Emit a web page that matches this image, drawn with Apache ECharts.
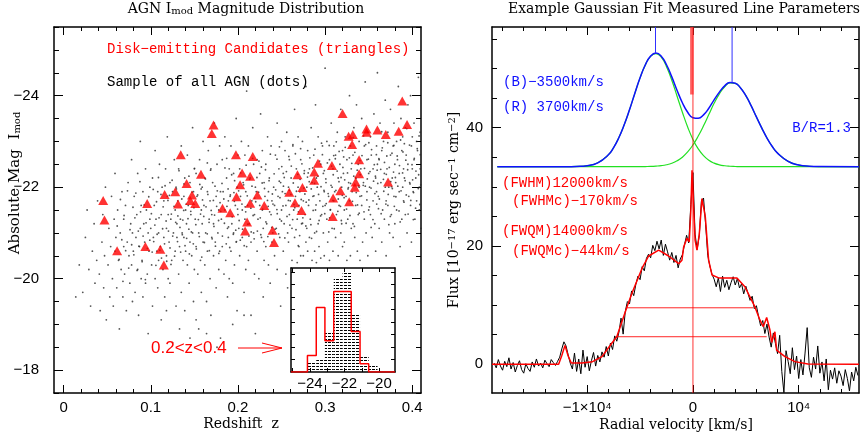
<!DOCTYPE html>
<html>
<head>
<meta charset="utf-8">
<script src="https://cdn.jsdelivr.net/npm/echarts@6/dist/echarts.min.js"></script>
<style>
html, body { margin: 0; padding: 0; background: #fff; }
#chart { width: 860px; height: 437px; }
</style>
</head>
<body>
<div id="chart"></div>
<script>
// ---------- left panel: redshift vs absolute magnitude ----------
const zTicks = [0, 0.1, 0.2, 0.3, 0.4];
const zMinorTicks = [0, 0.02, 0.04, 0.06, 0.08, 0.1, 0.12, 0.14, 0.16, 0.18, 0.2, 0.22, 0.24, 0.26, 0.28, 0.3, 0.32, 0.34, 0.36, 0.38, 0.4];
const magTicks = [-24, -22, -20, -18];
const magMinorTicks = [-25.5, -25, -24.5, -24, -23.5, -23, -22.5, -22, -21.5, -21, -20.5, -20, -19.5, -19, -18.5, -18, -17.5];

// all AGN (dots), flat list of z, mag pairs
const agnZM = [
  .014,-19.6, .018,-20.3, .022,-19.7, .025,-20.9, .027,-21.5, .029,-20.2,
  .031,-19.4, .033,-20.6, .035,-21.2, .036,-19.9, .038,-20.4, .039,-21.7,
  .041,-20.1, .042,-19.3, .044,-20.8, .045,-21.4, .046,-19.8, .047,-20.5, .048,-22.0, .049,-19.1,
  .051,-20.3, .052,-21.1, .053,-19.6, .054,-20.7, .055,-21.8, .056,-20.0, .057,-19.4, .058,-21.3, .059,-20.6, .059,-22.3,
  .060,-20.9, .061,-19.8, .062,-21.5, .063,-20.4, .064,-18.9, .065,-21.0, .066,-20.2, .067,-21.9, .068,-19.6, .069,-20.7, .069,-21.3,
  .070,-20.1, .071,-21.6, .072,-19.3, .073,-20.8, .074,-22.1, .075,-20.5, .076,-19.9, .077,-21.2, .078,-20.3, .078,-22.6, .079,-19.5, .079,-21.0,
  .080,-20.6, .081,-21.8, .082,-19.7, .083,-20.9, .084,-21.4, .085,-20.2, .085,-22.3, .086,-19.2, .087,-20.7, .088,-21.1, .088,-23.0, .089,-20.0, .089,-21.6,
  .090,-20.4, .091,-21.9, .091,-19.6, .092,-21.2, .093,-20.8, .094,-22.4, .094,-19.9, .095,-21.5, .096,-20.1, .097,-21.0, .097,-18.8, .098,-20.6, .099,-22.0, .099,-21.3,
  .100,-21.1, .101,-20.3, .102,-22.2, .102,-19.4, .103,-20.9, .104,-21.6, .105,-20.0, .105,-22.8, .106,-21.3, .107,-20.6, .108,-19.8, .108,-21.9, .109,-20.4, .109,-21.0, .110,-22.5,
  .111,-20.7, .112,-21.4, .112,-19.1, .113,-22.0, .114,-20.2, .115,-21.7, .115,-20.9, .116,-19.6, .117,-22.4, .118,-21.1, .118,-20.5, .119,-21.8, .119,-23.1, .120,-20.0, .120,-21.4,
  .121,-20.8, .122,-22.1, .122,-19.9, .123,-21.3, .124,-20.4, .125,-21.9, .125,-18.6, .126,-21.0, .127,-22.6, .128,-20.6, .128,-21.5, .129,-19.4, .129,-22.0, .130,-20.9, .130,-21.2,
  .131,-21.7, .132,-20.1, .132,-22.4, .133,-20.7, .134,-21.3, .135,-19.7, .135,-22.9, .136,-21.0, .137,-20.4, .138,-21.8, .138,-20.9, .139,-22.2, .139,-19.3, .140,-21.5, .140,-20.6,
  .141,-21.2, .142,-20.3, .142,-22.7, .143,-21.6, .144,-19.9, .145,-20.8, .145,-22.1, .146,-21.4, .147,-20.5, .148,-23.3, .148,-21.0, .149,-19.5, .149,-21.9, .150,-20.2, .150,-22.4,
  .151,-21.3, .152,-20.7, .152,-22.3, .153,-21.8, .154,-20.1, .155,-21.0, .155,-18.9, .156,-22.6, .157,-20.4, .158,-21.5, .158,-19.7, .159,-22.0, .159,-21.2, .160,-20.8, .160,-23.0,
  .161,-21.6, .162,-20.3, .162,-22.2, .163,-21.0, .164,-19.5, .165,-21.9, .165,-20.6, .166,-22.8, .167,-21.3, .168,-20.0, .168,-21.7, .169,-19.2, .169,-22.4, .170,-20.9, .170,-21.4,
  .171,-22.1, .172,-20.5, .172,-21.2, .173,-23.4, .174,-20.8, .175,-21.8, .175,-19.8, .176,-22.5, .177,-21.0, .178,-20.2, .178,-21.5, .179,-22.9, .179,-20.6, .180,-18.7, .180,-21.9,
  .181,-21.3, .182,-20.7, .182,-22.6, .183,-21.9, .184,-20.1, .185,-21.5, .185,-23.1, .186,-20.4, .187,-22.2, .188,-21.1, .188,-19.6, .189,-21.7, .189,-20.9, .190,-22.4, .190,-20.0,
  .191,-21.8, .192,-20.6, .192,-22.9, .193,-21.2, .194,-19.9, .195,-22.3, .195,-21.0, .196,-20.3, .197,-21.6, .198,-23.5, .198,-20.8, .199,-22.0, .199,-19.3, .200,-21.4, .200,-22.7,
  .201,-21.1, .202,-22.4, .202,-20.5, .203,-21.8, .204,-23.0, .205,-20.9, .205,-21.5, .206,-22.1, .207,-19.7, .208,-21.3, .208,-22.7, .209,-20.2, .209,-21.9, .210,-24.1, .210,-20.7,
  .211,-21.6, .212,-22.9, .212,-20.4, .213,-21.2, .214,-22.2, .215,-20.8, .215,-19.2, .216,-21.7, .217,-23.3, .218,-21.0, .218,-22.5, .219,-20.1, .219,-21.4, .220,-22.0, .220,-18.8,
  .221,-21.9, .222,-20.6, .222,-22.6, .223,-21.3, .224,-20.0, .225,-22.3, .225,-21.6, .226,-23.6, .227,-20.9, .228,-21.5, .228,-22.8, .229,-19.6, .229,-21.1, .230,-22.1, .230,-20.4,
  .231,-21.8, .232,-22.5, .232,-20.7, .233,-21.2, .234,-23.1, .235,-20.3, .235,-21.9, .236,-22.2, .237,-19.9, .238,-21.4, .238,-22.9, .239,-20.8, .239,-21.7, .240,-24.4, .240,-21.0,
  .241,-22.0, .242,-20.5, .242,-21.6, .243,-22.7, .244,-21.1, .245,-23.4, .245,-20.2, .246,-21.8, .247,-22.4, .248,-20.9, .248,-21.3, .249,-19.4, .249,-22.1, .250,-21.5, .250,-23.0,
  .251,-21.9, .252,-20.6, .252,-22.3, .253,-21.2, .254,-22.8, .255,-20.1, .255,-21.6, .256,-23.2, .257,-21.0, .258,-22.0, .258,-20.8, .259,-21.4, .259,-22.6, .257,-19.8, .260,-21.7,
  .261,-22.2, .262,-21.1, .262,-20.4, .263,-22.9, .264,-21.5, .265,-23.7, .265,-20.9, .266,-21.8, .267,-22.4, .268,-20.35, .268,-21.3, .269,-22.0, .269,-23.1, .270,-21.6, .270,-20.7,
  .271,-21.9, .272,-22.6, .272,-20.5, .273,-21.2, .274,-23.0, .275,-21.7, .275,-20.5, .276,-22.3, .277,-21.4, .278,-24.2, .278,-20.8, .279,-22.0, .279,-21.1, .280,-22.8, .280,-20.6,
  .281,-21.6, .282,-22.4, .282,-20.9, .283,-21.3, .284,-23.3, .285,-20.4, .285,-22.1, .286,-21.8, .287,-22.7, .288,-20.6, .288,-21.0, .289,-23.8, .289,-21.5, .290,-22.2, .290,-20.35,
  .291,-22.0, .292,-21.2, .292,-23.1, .293,-20.7, .294,-21.7, .295,-22.5, .295,-20.45, .296,-21.4, .297,-22.9, .298,-21.0, .298,-22.3, .299,-20.5, .299,-21.9, .300,-24.6, .300,-21.6,
  .301,-22.1, .302,-21.3, .302,-23.0, .303,-20.8, .304,-21.8, .305,-22.6, .305,-20.4, .306,-21.5, .307,-23.4, .308,-22.0, .308,-21.1, .309,-22.4, .309,-20.6, .310,-21.7, .310,-22.9,
  .311,-21.9, .312,-22.7, .312,-20.9, .313,-21.4, .314,-23.2, .315,-22.2, .315,-20.5, .316,-21.6, .317,-22.5, .318,-21.0, .318,-23.7, .319,-22.0, .319,-21.2, .320,-20.7, .320,-22.8,
  .321,-22.3, .322,-21.5, .322,-20.8, .323,-23.1, .324,-21.8, .325,-22.6, .325,-20.4, .326,-21.3, .327,-22.1, .328,-24.0, .328,-21.7, .329,-22.9, .329,-20.5, .330,-21.1, .330,-22.4,
  .331,-21.9, .332,-22.7, .332,-21.2, .333,-23.3, .334,-20.9, .335,-22.2, .335,-21.6, .336,-23.8, .337,-20.6, .338,-22.5, .338,-21.4, .339,-22.0, .339,-23.0, .340,-21.8, .340,-20.4,
  .341,-22.4, .342,-21.6, .342,-23.5, .343,-20.8, .344,-22.1, .345,-21.3, .345,-22.9, .346,-24.3, .347,-21.0, .348,-22.6, .348,-21.9, .349,-20.5, .349,-23.2, .350,-22.3, .350,-21.5,
  .351,-22.0, .352,-23.1, .352,-21.4, .353,-22.7, .354,-20.9, .355,-22.4, .355,-21.7, .356,-23.6, .357,-21.2, .358,-22.2, .358,-20.6, .359,-22.9, .359,-21.9, .360,-24.5, .360,-22.5,
  .361,-21.8, .362,-22.6, .362,-21.1, .363,-23.4, .364,-22.1, .365,-20.8, .365,-22.8, .366,-21.5, .367,-23.0, .368,-22.3, .368,-21.3, .369,-23.9, .369,-22.0, .370,-21.7, .370,-20.5,
  .371,-22.4, .372,-21.6, .372,-23.2, .373,-22.0, .374,-21.0, .375,-22.7, .375,-23.7, .376,-21.4, .377,-22.2, .378,-20.9, .378,-22.9, .379,-21.8, .379,-23.4, .380,-22.5, .380,-21.2,
  .381,-22.1, .382,-23.0, .382,-21.5, .383,-22.6, .384,-24.2, .385,-21.9, .385,-22.3, .386,-20.7, .387,-23.5, .388,-22.8, .388,-21.3, .389,-22.0, .389,-23.1, .390,-21.7, .390,-22.4,
  .391,-22.2, .392,-21.4, .392,-23.3, .393,-22.7, .394,-21.0, .395,-22.5, .395,-23.8, .396,-21.8, .397,-22.1, .398,-24.0, .398,-21.6, .399,-22.9, .399,-20.8, .400,-22.4, .400,-23.1,
  .401,-21.9, .402,-22.6, .402,-23.4, .403,-21.3, .404,-22.2, .405,-23.0, .405,-21.7, .406,-22.8, .407,-24.4, .408,-22.0, .408,-21.5, .409,-23.2, .409,-22.4, .410,-21.1,
  .133,-18.9, .152,-19.1, .176,-18.5, .194,-19.0, .118,-19.3, .145,-18.7, .207,-19.2, .164,-18.8
];
// denser core of the same sample
const agnCoreZM = [
  .0615,-21.15, .0637,-20.42, .0652,-21.73, .0668,-20.85, .0681,-19.94, .0694,-21.38, .0712,-20.61, .0733,-21.92, .0747,-20.23, .0762,-21.07, .0781,-20.74, .0796,-21.56,
  .0806,-20.52, .0818,-21.33, .0829,-21.87, .0843,-20.18, .0857,-21.04, .0864,-20.71, .0876,-22.12, .0883,-21.46, .0901,-20.37, .0912,-20.93, .0925,-21.61, .0938,-19.98, .0946,-21.22, .0961,-20.66, .0977,-21.79, .0989,-20.84,
  .1007,-21.42, .1016,-20.58, .1028,-21.95, .1034,-20.81, .1047,-21.17, .1059,-20.29, .1066,-21.68, .1073,-20.97, .1088,-22.21, .1095,-21.33, .1104,-20.62, .1117,-21.84, .1123,-20.45, .1136,-21.09, .1142,-21.57, .1158,-20.76, .1164,-22.03, .1176,-21.26, .1183,-20.38, .1197,-21.71,
  .1203,-21.04, .1214,-21.82, .1221,-20.67, .1236,-21.41, .1245,-22.15, .1252,-20.93, .1267,-21.58, .1273,-20.49, .1286,-21.23, .1294,-21.96, .1307,-20.81, .1311,-21.37, .1324,-22.36, .1335,-21.12, .1343,-20.58, .1356,-21.74, .1362,-20.96, .1378,-21.49, .1381,-22.07, .1393,-20.72, .1368,-21.28, .1232,-20.31,
  .1406,-21.63, .1412,-20.88, .1427,-21.31, .1438,-22.24, .1443,-20.54, .1459,-21.47, .1466,-21.02, .1474,-21.89, .1488,-20.76, .1495,-21.55, .1502,-22.41, .1517,-21.18, .1523,-20.65, .1538,-21.83, .1546,-21.29, .1557,-20.92, .1563,-22.06, .1571,-21.41, .1585,-20.47, .1594,-21.72, .1578,-21.96, .1437,-21.08,
  .1608,-21.36, .1615,-20.79, .1627,-22.18, .1634,-21.57, .1648,-20.98, .1655,-21.84, .1669,-21.23, .1672,-20.61, .1686,-22.37, .1693,-21.49, .1704,-20.87, .1718,-21.71, .1725,-21.14, .1737,-22.02, .1742,-20.71, .1756,-21.58, .1763,-21.92, .1778,-21.27, .1781,-20.55, .1795,-21.66, .1649,-22.53, .1732,-21.39,
  .1803,-21.47, .1817,-22.08, .1822,-20.93, .1838,-21.74, .1845,-21.21, .1851,-22.42, .1866,-20.76, .1874,-21.58, .1887,-21.96, .1892,-21.13, .1906,-20.68, .1913,-21.83, .1928,-22.27, .1934,-21.35, .1947,-20.97, .1959,-21.69, .1962,-22.14, .1975,-21.06, .1983,-20.81, .1996,-21.52, .1871,-22.63, .1954,-21.88,
  .2008,-21.92, .2014,-21.27, .2027,-20.84, .2031,-22.31, .2046,-21.63, .2053,-21.08, .2065,-22.05, .2072,-20.72, .2089,-21.46, .2094,-22.48, .2107,-21.81, .2113,-21.19, .2126,-20.93, .2135,-22.17, .2148,-21.54, .2152,-21.02, .2169,-22.63, .2174,-21.38, .2186,-20.87, .2193,-21.76, .2161,-22.02, .2083,-21.57,
  .2204,-21.68, .2218,-22.21, .2223,-21.04, .2237,-21.89, .2241,-22.57, .2256,-21.33, .2262,-20.96, .2278,-22.09, .2284,-21.52, .2297,-20.81, .2305,-21.97, .2316,-22.38, .2321,-21.24, .2339,-21.71, .2343,-20.92, .2357,-22.14, .2364,-21.46, .2372,-22.72, .2388,-21.12, .2395,-21.85, .2347,-21.58, .2269,-22.44,
  .2402,-21.63, .2415,-22.29, .2426,-21.08, .2433,-21.94, .2448,-22.61, .2451,-21.42, .2467,-20.98, .2474,-22.13, .2482,-21.77, .2499,-21.26, .2503,-22.45, .2517,-21.59, .2522,-22.02, .2538,-20.89, .2541,-21.86, .2556,-22.34, .2563,-21.36, .2579,-21.71, .2584,-22.67, .2596,-21.17, .2447,-21.51, .2531,-22.21, .2476,-22.88, .2589,-21.93,
  .2607,-21.84, .2612,-22.46, .2628,-21.29, .2635,-22.09, .2643,-21.62, .2659,-22.73, .2666,-21.07, .2671,-21.91, .2687,-22.28, .2694,-21.46, .2708,-20.94, .2713,-22.17, .2726,-21.73, .2734,-22.51, .2745,-21.33, .2757,-21.98, .2762,-22.36, .2779,-21.15, .2783,-21.67, .2798,-22.22, .2652,-21.55, .2719,-22.84, .2768,-21.85, .2692,-20.72, .2631,-22.93, .2741,-21.21,
  .2806,-22.31, .2814,-21.72, .2825,-22.64, .2837,-21.18, .2841,-21.96, .2858,-22.42, .2863,-21.49, .2879,-22.08, .2884,-22.83, .2896,-21.61, .2902,-21.03, .2917,-22.24, .2925,-21.84, .2936,-22.57, .2948,-21.37, .2953,-22.01, .2969,-22.71, .2974,-21.58, .2987,-21.93, .2991,-22.36, .2845,-20.88, .2931,-21.27, .2872,-21.81, .2959,-22.96, .2818,-22.12, .2996,-21.42,
  .3008,-22.18, .3013,-21.64, .3026,-22.53, .3035,-21.86, .3047,-22.91, .3052,-21.33, .3068,-22.04, .3074,-22.46, .3089,-21.71, .3093,-22.27, .3105,-21.09, .3117,-22.62, .3124,-21.93, .3138,-22.35, .3146,-21.47, .3159,-22.12, .3161,-22.78, .3176,-21.58, .3183,-22.21, .3197,-21.82, .3042,-21.02, .3128,-22.99, .3186,-21.27, .3061,-21.51, .3151,-21.74, .3099,-22.69,
  .3204,-22.43, .3218,-21.77, .3225,-22.16, .3231,-22.87, .3246,-21.52, .3257,-22.31, .3263,-21.96, .3278,-22.64, .3285,-21.38, .3292,-22.08, .3306,-22.52, .3314,-21.69, .3329,-22.24, .3336,-21.14, .3341,-22.76, .3357,-21.88, .3368,-22.37, .3372,-21.61, .3384,-22.03, .3399,-22.58, .3241,-21.21, .3322,-23.08, .3391,-21.43, .3267,-21.99, .3353,-22.19, .3213,-22.66,
  .3403,-22.27, .3418,-21.81, .3423,-22.69, .3437,-22.04, .3446,-21.46, .3452,-22.41, .3465,-22.93, .3479,-21.72, .3484,-22.18, .3496,-22.61, .3508,-21.57, .3515,-22.34, .3527,-21.98, .3533,-22.82, .3549,-21.29, .3556,-22.13, .3564,-22.49, .3571,-21.86, .3588,-22.71, .3592,-21.63, .3441,-23.12, .3528,-21.12, .3577,-22.24, .3461,-22.02, .3502,-22.97, .3597,-22.37,
  .3604,-22.08, .3617,-22.62, .3622,-21.74, .3638,-22.39, .3643,-21.42, .3656,-22.86, .3669,-22.17, .3673,-21.91, .3681,-22.54, .3697,-21.63, .3702,-22.28, .3719,-22.97, .3724,-21.84, .3736,-22.43, .3748,-21.36, .3753,-22.12, .3767,-22.74, .3771,-21.97, .3785,-22.33, .3794,-21.58, .3649,-23.21, .3731,-21.18, .3789,-22.91, .3612,-21.53, .3708,-22.68, .3762,-22.01,
  .3806,-22.21, .3812,-21.79, .3827,-22.68, .3834,-22.02, .3848,-21.48, .3853,-22.47, .3866,-23.03, .3871,-21.92, .3889,-22.31, .3893,-22.77, .3905,-21.67, .3918,-22.14, .3926,-22.59, .3931,-21.83, .3947,-22.38, .3952,-21.41, .3968,-22.92, .3974,-22.07, .3983,-21.71, .3997,-22.49,
  .4004,-22.16, .4015,-21.88, .4023,-22.63, .4038,-21.54, .4042,-22.35, .4057,-22.84, .4069,-21.97, .4073,-22.27, .4086,-21.62, .4091,-22.71, .4097,-22.05, .3861,-21.24, .3937,-23.28, .4012,-21.29, .4078,-23.12, .3909,-22.95
];

// disk-emitting candidates (triangles) [z, mag]
const candidates = [
  [0.0454,-21.71], [0.320,-23.61], [0.3885,-23.88], [0.394,-23.37], [0.172,-23.36], [0.170,-23.17],
  [0.3475,-23.27], [0.3475,-23.20], [0.360,-23.25], [0.3696,-23.15], [0.3844,-23.22], [0.327,-23.11],
  [0.3318,-23.15], [0.331,-22.93], [0.339,-22.60], [0.339,-22.29], [0.335,-22.11], [0.334,-22.00],
  [0.3722,-22.11], [0.3078,-22.47], [0.2918,-22.52], [0.2875,-22.33], [0.2875,-22.15], [0.3175,-21.92],
  [0.3092,-21.76], [0.3276,-21.68], [0.3087,-21.36], [0.2683,-22.27], [0.274,-21.99], [0.2589,-21.89],
  [0.2654,-21.66], [0.2729,-21.49], [0.1977,-22.71], [0.217,-22.67], [0.2048,-22.31], [0.214,-22.24],
  [0.2025,-22.05], [0.1983,-21.79], [0.2223,-21.83], [0.214,-21.65], [0.2302,-21.60], [0.1344,-22.71],
  [0.1576,-22.28], [0.1411,-22.08], [0.1159,-21.84], [0.1281,-21.90], [0.1473,-21.83], [0.1453,-21.71],
  [0.151,-21.64], [0.1313,-21.63], [0.0959,-21.64], [0.1823,-21.54], [0.1911,-21.44], [0.0469,-21.28],
  [0.0614,-20.61], [0.0938,-20.70], [0.111,-20.64], [0.115,-20.30], [0.2105,-21.24], [0.2082,-21.04],
  [0.2397,-21.06], [0.2414,-20.79]
];

// inset: magnitude histograms for 0.2<z<0.4 (relative heights)
const histEdges = [-24.64, -24.14, -23.63, -23.13, -22.62, -22.11, -21.61, -21.10, -20.60, -20.09, -19.59];
const histAll  = [1.3, 10.6, 12, 40.6, 94, 100.6, 59, 17, 7, 1.5];
const histCand = [0, 16.6, 64.6, 31.3, 80.6, 80.6, 40.6, 8.3, 0, 0];
const insetTicks = [-24, -22, -20];
const insetMinorTicks = [-25, -24, -23, -22, -21, -20];
const insetYTicks = [12.5, 25, 37.5, 50, 62.5, 75, 87.5, 100];

// ---------- right panel: line profile ----------
const velTicks = [-10000, 0, 10000];
const velTickLabels = ['\u22121\u00d710\u2074', '0', '10\u2074'];
const velMinorTicks = [-18000, -16000, -14000, -12000, -10000, -8000, -6000, -4000, -2000, 0, 2000, 4000, 6000, 8000, 10000, 12000, 14000];
const fluxTicks = [0, 20, 40];
const fluxMinorTicks = [0, 5, 10, 15, 20, 25, 30, 35, 40, 45, 50, 55];

// observed spectrum, sampled every 200 km/s from -18800 km/s
const specV0 = -18800, specStep = 200;
const specFlux = [
  0.2,-0.6,0.8,-0.3,-1.0,0.5,-0.4,1.1,-0.8,0.3,-1.3,-0.2,0.6,-0.9,-1.5,0.1,-0.7,-1.2,0.4,-0.5,0.9,-0.3,0.2,-0.6,0.7,0.1,-0.4,0.8,0.3,-0.2,
  0.5,1.2,2.6,3.8,3.1, 1.6,0.2,-0.8,1.9,-1.2,
  0.9,-1.6,2.4,-0.5,1.3,-1.1,0.6,2.0,-0.3,1.5,
  0.4,2.1,1.2,3.0,1.4, 3.6,2.5,4.8,3.9,5.4,
  7.8,5.1,8.9,10.6,10.2, 12.4,11.6,13.5,14.9,14.3,
  16.5,15.8,17.9,18.6,18.0, 20.1,19.2,20.8,19.5,21.0,
  18.4,20.3,19.0,17.6,18.9, 17.2,18.4,16.3,17.8,18.5,
  20.2,21.8,20.5,27.0,32.4, 22.0,19.4,21.8,27.6,28.1,
  23.6,18.4,16.6,15.2,14.4, 13.1,14.6,12.3,14.9,13.0,
  14.2,12.6,13.8,14.8,13.4, 14.5,12.9,13.6,11.9,13.2,
  12.0,10.8,11.5,9.4,9.9, 8.1,6.5,7.4,5.2,6.8,
  4.6,2.9,5.3,3.5,1.8, 4.9,-1.2,-4.8,2.3,0.5,
  -1.6,2.8,-0.9,1.4,-2.4, 0.8,-1.8,1.9,6.2,-0.6,
  -2.2,1.2,-0.8,3.1,-1.5, 0.4,-2.8,0.9,-4.3,-1.0,
  -2.5,-0.6,-3.2,-1.1,-2.0, -3.6,-0.9,-2.4,-4.5,-1.3,
  -2.8,-0.5,-1.9
];

// fitted model (red)
const modelFit = [
  [-19000,0], [-12700,0], [-12400,1.5], [-12100,3.2], [-11800,1.4], [-11500,0.2], [-10500,0.2],
  [-9500,0.45], [-8600,1.3], [-7660,3.6], [-7200,4.66], [-6240,9.7], [-5770,12.0], [-4820,16.2],
  [-4190,18.3], [-3240,19.3], [-2300,18.3], [-1350,17.0], [-1040,17.6], [-880,19.8], [-570,21.3],
  [-350,20.7], [-200,26], [-90,32.8], [50,27], [200,21], [380,19.3], [600,22], [850,28.0],
  [1170,24.9], [1480,17.6], [1800,15.1], [2430,14.6], [4160,14.6], [4910,13.1], [5860,9.7],
  [6330,7.5], [6650,6.35], [6970,7.9], [7280,5.8], [7440,3.7], [7750,5.5], [7910,2.4], [8700,1.3],
  [9640,0.45], [10870,0.05], [15700,0]
];

// double-gaussian fit (offset copy at top)
const gaussV = [-18500, -12000, -11000, -10000, -9000, -8000, -7500, -7000, -6500, -6000, -5500, -5000, -4500, -4000,
  -3500, -3000, -2500, -2000, -1500, -1000, -500, 0, 500, 1000, 1500, 2000, 2500, 3000, 3500, 4000, 4500, 5000,
  5500, 6000, 6500, 7000, 7500, 8000, 9000, 10000, 11000, 12000, 15700];
const gaussBlue = [33.4, 33.4, 33.44, 33.57, 34.05, 35.4, 36.63, 38.32, 40.47, 43.0, 45.75, 48.4, 50.6, 52.05,
  52.5, 51.9, 50.3, 48.0, 45.3, 42.6, 40.1, 38.0, 36.4, 35.25, 34.47, 33.99, 33.7, 33.55, 33.47, 33.43, 33.4, 33.4,
  33.4, 33.4, 33.4, 33.4, 33.4, 33.4, 33.4, 33.4, 33.4, 33.4, 33.4];
const gaussRed = [33.4, 33.4, 33.4, 33.4, 33.4, 33.4, 33.4, 33.4, 33.4, 33.4, 33.41, 33.41, 33.42, 33.44,
  33.49, 33.57, 33.72, 33.97, 34.38, 35.0, 35.89, 37.07, 38.57, 40.3, 42.2, 44.1, 45.7, 46.9, 47.55, 47.47, 46.7, 45.4,
  43.7, 41.8, 39.95, 38.24, 36.81, 35.69, 34.29, 33.68, 33.47, 33.42, 33.4];
const gaussSum = [33.4, 33.4, 33.44, 33.57, 34.05, 35.4, 36.63, 38.32, 40.47, 43.0, 45.76, 48.41, 50.62, 52.09,
  52.59, 52.07, 50.62, 48.57, 46.28, 44.2, 42.59, 41.67, 41.57, 42.15, 43.27, 44.69, 46.0, 47.05, 47.62, 47.5, 46.7, 45.4,
  43.7, 41.8, 39.95, 38.24, 36.81, 35.69, 34.29, 33.68, 33.47, 33.42, 33.4];
const peakMarks = [[-3540, 52.6], [3700, 47.6]];
// measured widths: [left velocity, right velocity, flux level]
const widthLevels = [[-6240, 5700, 9.55], [-7300, 6970, 4.66]];

// ---------- chart ----------
const SERIF = '"DejaVu Serif", "Liberation Serif", serif';
const SANS = '"Liberation Sans", Arial, sans-serif';
const MONO = '"Liberation Mono", "Courier New", monospace';
const minus = v => String(v).replace('-', '\u2212');

const Z_MIN = -0.011, Z_MAX = 0.41, M_MIN = -25.5, M_MAX = -17.5;
const V_MIN = -19000, V_MAX = 15700, F_MIN = -4.85, F_MAX = 57;
const H_MIN = -25.09, H_MAX = -19.08;

function ax(gridIndex, position, min, max, ticks, len, opt) {
  opt = opt || {};
  return {
    type: 'value', gridIndex, position, min, max,
    inverse: !!opt.inverse,
    z: opt.z || 0,
    axisLine: { show: !!opt.line, onZero: false, lineStyle: { color: '#000', width: 1.5 } },
    axisTick: { show: true, inside: true, length: len, customValues: ticks, lineStyle: { color: '#000', width: 1 } },
    axisLabel: opt.labels ? {
      show: true, customValues: opt.labels, formatter: opt.formatter || minus,
      fontFamily: SANS, fontSize: 15, color: '#000', margin: opt.margin
    } : { show: false },
    splitLine: { show: false }
  };
}

const agnPoints = [];
for (let i = 0; i < agnZM.length; i += 2) agnPoints.push([agnZM[i], agnZM[i + 1]]);
for (let i = 0; i < agnCoreZM.length; i += 2) agnPoints.push([agnCoreZM[i], agnCoreZM[i + 1]]);

const specPoints = specFlux.map((f, i) => [specV0 + i * specStep, f]);

const redStep = [[H_MIN, 0]];
histCand.forEach((c, i) => { redStep.push([histEdges[i], c], [histEdges[i + 1], c]); });
redStep.push([H_MAX, 0]);

const hatchCanvas = document.createElement('canvas');
hatchCanvas.width = 4; hatchCanvas.height = 3;
const hctx = hatchCanvas.getContext('2d');
hctx.fillStyle = '#000';
hctx.fillRect(0, 0, 3, 1);
const hatch = { image: hatchCanvas, repeat: 'repeat' };

function seg(points, color, width, xi, yi, z, smooth) {
  return {
    type: 'line', xAxisIndex: xi, yAxisIndex: yi, data: points, showSymbol: false, silent: true,
    smooth: smooth || false, lineStyle: { color, width }, z: z || 3, animation: false
  };
}

const xAxes = [
  ax(0, 'bottom', Z_MIN, Z_MAX, zTicks, 8, { line: true, labels: zTicks, margin: 7, formatter: v => String(v) }),
  ax(0, 'bottom', Z_MIN, Z_MAX, zMinorTicks, 4),
  ax(0, 'top', Z_MIN, Z_MAX, zTicks, 8, { line: true }),
  ax(0, 'top', Z_MIN, Z_MAX, zMinorTicks, 4),
  ax(1, 'bottom', V_MIN, V_MAX, velTicks, 8, { line: true, labels: velTicks, margin: 7,
    formatter: v => velTickLabels[velTicks.indexOf(v)] }),
  ax(1, 'bottom', V_MIN, V_MAX, velMinorTicks, 4),
  ax(1, 'top', V_MIN, V_MAX, velTicks, 8, { line: true }),
  ax(1, 'top', V_MIN, V_MAX, velMinorTicks, 4),
  ax(2, 'bottom', H_MIN, H_MAX, insetMinorTicks, 4, { line: true, labels: insetTicks, margin: 4, z: 6 }),
  ax(2, 'top', H_MIN, H_MAX, insetMinorTicks, 4, { line: true, z: 6 })
];
const yAxes = [
  ax(0, 'left', M_MIN, M_MAX, magTicks, 9, { line: true, inverse: true, labels: magTicks, margin: 15 }),
  ax(0, 'left', M_MIN, M_MAX, magMinorTicks, 5, { inverse: true }),
  ax(0, 'right', M_MIN, M_MAX, magTicks, 9, { line: true, inverse: true }),
  ax(0, 'right', M_MIN, M_MAX, magMinorTicks, 5, { inverse: true }),
  ax(1, 'left', F_MIN, F_MAX, fluxTicks, 9, { line: true, labels: fluxTicks, margin: 9 }),
  ax(1, 'left', F_MIN, F_MAX, fluxMinorTicks, 5),
  ax(1, 'right', F_MIN, F_MAX, fluxTicks, 9, { line: true }),
  ax(1, 'right', F_MIN, F_MAX, fluxMinorTicks, 5),
  ax(2, 'left', 0, 104, insetYTicks, 4, { line: true, z: 6 }),
  ax(2, 'right', 0, 104, insetYTicks, 4, { line: true, z: 6 })
];

const series = [
  {
    type: 'scatter', xAxisIndex: 0, yAxisIndex: 0, data: agnPoints, symbol: 'circle', symbolSize: 1.8,
    itemStyle: { color: '#2a2a2a' }, silent: true, z: 2
  },
  {
    type: 'scatter', xAxisIndex: 0, yAxisIndex: 0, data: candidates, symbol: 'triangle', symbolSize: [10, 9],
    itemStyle: { color: '#ff0000' }, silent: true, z: 3
  },
  {
    type: 'custom', xAxisIndex: 8, yAxisIndex: 8, z: 5, silent: true,
    data: histAll.map((h, i) => [histEdges[i], histEdges[i + 1], h]),
    encode: { x: [0, 1], y: 2 },
    renderItem: (params, api) => {
      const p0 = api.coord([api.value(0), api.value(2)]);
      const p1 = api.coord([api.value(1), 0]);
      return { type: 'rect', shape: { x: p0[0], y: p0[1], width: p1[0] - p0[0], height: p1[1] - p0[1] },
        style: { fill: hatch } };
    }
  },
  seg(redStep, '#ff0000', 1.5, 8, 8, 6),
  seg(gaussV.map((v, i) => [v, gaussBlue[i]]), '#22e022', 1.2, 4, 4, 3, 0.5),
  seg(gaussV.map((v, i) => [v, gaussRed[i]]), '#22e022', 1.2, 4, 4, 3, 0.5),
  seg(gaussV.map((v, i) => [v, gaussSum[i]]), '#1010ff', 1.5, 4, 4, 4, 0.5),
  ...peakMarks.map(p => seg([[p[0], F_MAX], p], '#3030ff', 1, 4, 4, 4)),
  seg(specPoints, '#000', 1, 4, 4, 3),
  seg(modelFit, '#ff0000', 1.5, 4, 4, 4),
  ...widthLevels.map(w => seg([[w[0], w[2]], [w[1], w[2]]], 'rgba(255,0,0,0.85)', 1, 4, 4, 5)),
  seg([[0, F_MIN], [0, F_MAX]], 'rgba(255,0,0,0.8)', 1, 4, 4, 5),
  seg([[-100, F_MAX], [-100, 45.6]], 'rgba(255,40,40,0.75)', 3.5, 4, 4, 5)
];

function txt(x, y, text, o) {
  o = o || {};
  return {
    type: 'text', x, y, rotation: o.rotation || 0, z: 100, silent: true,
    style: {
      text, fill: o.color || '#000', font: (o.size || 14) + 'px ' + (o.family || SERIF),
      align: o.align || 'left', verticalAlign: 'middle', rich: o.rich
    }
  };
}
const subRich = { sub: { fontSize: 10, fontFamily: SERIF, verticalAlign: 'bottom', lineHeight: 10 },
  sup: { fontSize: 10, fontFamily: SERIF, verticalAlign: 'top', lineHeight: 10 } };
const note = (x, y, text, color, align) => txt(x, y, text, { color, size: 14, family: MONO, align });

const graphics = [
  txt(246, 9, 'AGN I{sub|mod} Magnitude Distribution', { align: 'center', rich: subRich }),
  txt(684, 9, 'Example Gaussian Fit Measured Line Parameters', { align: 'center' }),
  note(107, 49, 'Disk\u2212emitting Candidates (triangles)', '#ff0000'),
  note(107, 82, 'Sample of all AGN (dots)', '#000'),
  txt(151, 348, '0.2<z<0.4', { color: '#ff0000', size: 17, family: SANS }),
  txt(15, 183, 'Absolute Mag  I{sub|mod}', { align: 'center', rotation: Math.PI / 2, rich: subRich, size: 15 }),
  txt(241, 424, 'Redshift  z', { align: 'center', size: 14 }),
  txt(454, 210, 'Flux [10{sup|\u221217} erg sec{sup|\u22121} cm{sup|\u22122}]', { align: 'center', rotation: Math.PI / 2, rich: subRich, size: 14 }),
  txt(676, 425, 'Radial velocity [km/s]', { align: 'center', size: 14 }),
  note(503, 82, '(B)\u22123500km/s', '#1010ff'),
  note(503, 107, '(R) 3700km/s', '#1010ff'),
  note(851, 128, 'B/R=1.3', '#1010ff', 'right'),
  note(502, 183, '(FWHM)12000km/s', '#ff0000'),
  note(512, 201, '(FWHMc)\u2212170km/s', '#ff0000'),
  note(502, 231, '(FWQM)14000km/s', '#ff0000'),
  note(512, 251, '(FWQMc)\u221244km/s', '#ff0000'),
  { type: 'polyline', z: 100, silent: true, shape: { points: [[238, 348], [282, 348]] }, style: { stroke: '#ff0000', lineWidth: 1 } },
  { type: 'polyline', z: 100, silent: true, shape: { points: [[262, 343], [282, 348], [262, 353]] }, style: { stroke: '#ff0000', fill: null, lineWidth: 1 } }
];

const chart = echarts.init(document.getElementById('chart'));
chart.setOption({
  animation: false,
  grid: [
    { left: 54, top: 27, width: 367, height: 366 },
    { left: 492, top: 27, width: 367, height: 366 },
    { left: 291, top: 268, width: 104, height: 104, show: true, backgroundColor: '#fff', borderWidth: 0, z: 4 }
  ],
  xAxis: xAxes,
  yAxis: yAxes,
  series,
  graphic: graphics
});
</script>
</body>
</html>
